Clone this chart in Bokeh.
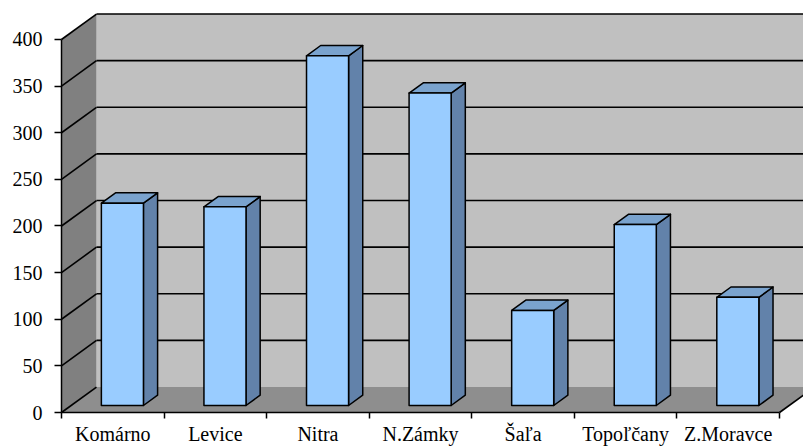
from bokeh.plotting import figure
from bokeh.models import Range1d, LinearAxis, FixedTicker
from bokeh.embed import file_html
from bokeh.resources import INLINE

# ---- data ----
districts = ["Komárno", "Levice", "Nitra", "N.Zámky", "Šaľa", "Topoľčany", "Z.Moravce"]
counts = [217, 213, 375, 335, 102, 194, 116]
y_ticks = [0, 50, 100, 150, 200, 250, 300, 350, 400]

# ---- 3D projection constants (data units) ----
DX = 0.341      # depth shift in category units
DY = 27.3       # depth shift in value units
F0, F1 = 0.275, 0.68   # bar front / back depth fractions
BW = 0.41       # bar width (category units)
YMAX = 400
N = len(districts)

W, H = 803, 448
p = figure(width=W, height=H, output_backend="svg", toolbar_location=None,
           x_range=Range1d(-0.5947, 7.234), y_range=Range1d(-38.6, 441.8),
           x_axis_type=None, y_axis_type=None,
           min_border_left=0, min_border_right=0, min_border_top=0, min_border_bottom=0)
p.outline_line_color = None
p.background_fill_color = "white"
p.border_fill_color = "white"
p.xgrid.visible = False
p.ygrid.visible = False

# walls and floor
xr_end = N + DX
p.patch([DX, xr_end, xr_end, DX], [DY, DY, YMAX + DY, YMAX + DY],
        fill_color="#C0C0C0", line_color=None)
p.patch([0, DX, DX, 0], [0, DY, YMAX + DY, YMAX],
        fill_color="#808080", line_color=None)
p.patch([0, N, N + DX, DX], [0, 0, DY, DY],
        fill_color="#8E8E8E", line_color=None)

# gridlines on back wall and left wall
back_ticks = [t for t in y_ticks if t > 0]
p.segment(x0=[DX] * len(back_ticks), y0=[t + DY for t in back_ticks],
          x1=[xr_end] * len(back_ticks), y1=[t + DY for t in back_ticks],
          line_color="black", line_width=1.6)
p.segment(x0=[0] * len(y_ticks), y0=y_ticks,
          x1=[DX] * len(y_ticks), y1=[t + DY for t in y_ticks],
          line_color="black", line_width=1.6)
# floor right edge
p.segment(x0=[N], y0=[0], x1=[N + DX], y1=[DY], line_color="black", line_width=1.6)

# bars
fx, fy, tx, ty, sx, sy = [], [], [], [], [], []
for i, v in enumerate(counts):
    c = i + 0.5
    xl, xr = c - BW / 2, c + BW / 2
    a0x, a0y = F0 * DX, F0 * DY
    a1x, a1y = F1 * DX, F1 * DY
    fx.append([xl + a0x, xr + a0x, xr + a0x, xl + a0x])
    fy.append([a0y, a0y, v + a0y, v + a0y])
    tx.append([xl + a0x, xr + a0x, xr + a1x, xl + a1x])
    ty.append([v + a0y, v + a0y, v + a1y, v + a1y])
    sx.append([xr + a0x, xr + a1x, xr + a1x, xr + a0x])
    sy.append([a0y, a1y, v + a1y, v + a0y])
p.patches(sx, sy, fill_color="#6282AA", line_color="black", line_width=1.5, line_join="round")
p.patches(tx, ty, fill_color="#7AA3CE", line_color="black", line_width=1.5, line_join="round")
p.patches(fx, fy, fill_color="#99CCFF", line_color="black", line_width=1.5, line_join="round")

FONT = "'Liberation Serif', 'Times New Roman', serif"

yaxis = LinearAxis(ticker=FixedTicker(ticks=y_ticks), fixed_location=0)
yaxis.bounds = (0, YMAX)
yaxis.axis_line_color = "black"
yaxis.axis_line_width = 1.5
yaxis.major_tick_out = 7
yaxis.major_tick_in = 0
yaxis.minor_tick_line_color = None
yaxis.major_tick_line_width = 1.5
yaxis.major_label_standoff = 12
yaxis.major_label_text_font = FONT
yaxis.major_label_text_font_size = "20px"
yaxis.major_label_text_color = "black"
p.add_layout(yaxis, "left")

xaxis = LinearAxis(ticker=FixedTicker(ticks=list(range(N + 1))), fixed_location=0)
xaxis.bounds = (0, N)
xaxis.axis_line_color = "black"
xaxis.axis_line_width = 1.5
xaxis.major_tick_out = 6
xaxis.major_tick_in = 0
xaxis.major_tick_line_width = 1.5
xaxis.minor_tick_line_color = None
xaxis.major_label_overrides = {i: "" for i in range(N + 1)}
p.add_layout(xaxis, "below")

catax = LinearAxis(ticker=FixedTicker(ticks=[i + 0.5 for i in range(N)]), fixed_location=0)
catax.axis_line_color = None
catax.major_tick_line_color = None
catax.minor_tick_line_color = None
catax.major_tick_out = 6
catax.major_tick_in = 0
catax.major_label_standoff = 4
catax.major_label_overrides = {i + 0.5: name for i, name in enumerate(districts)}
catax.major_label_text_font = FONT
catax.major_label_text_font_size = "20px"
catax.major_label_text_color = "black"
p.add_layout(catax, "below")

open("out.html", "w").write(file_html(p, INLINE))
